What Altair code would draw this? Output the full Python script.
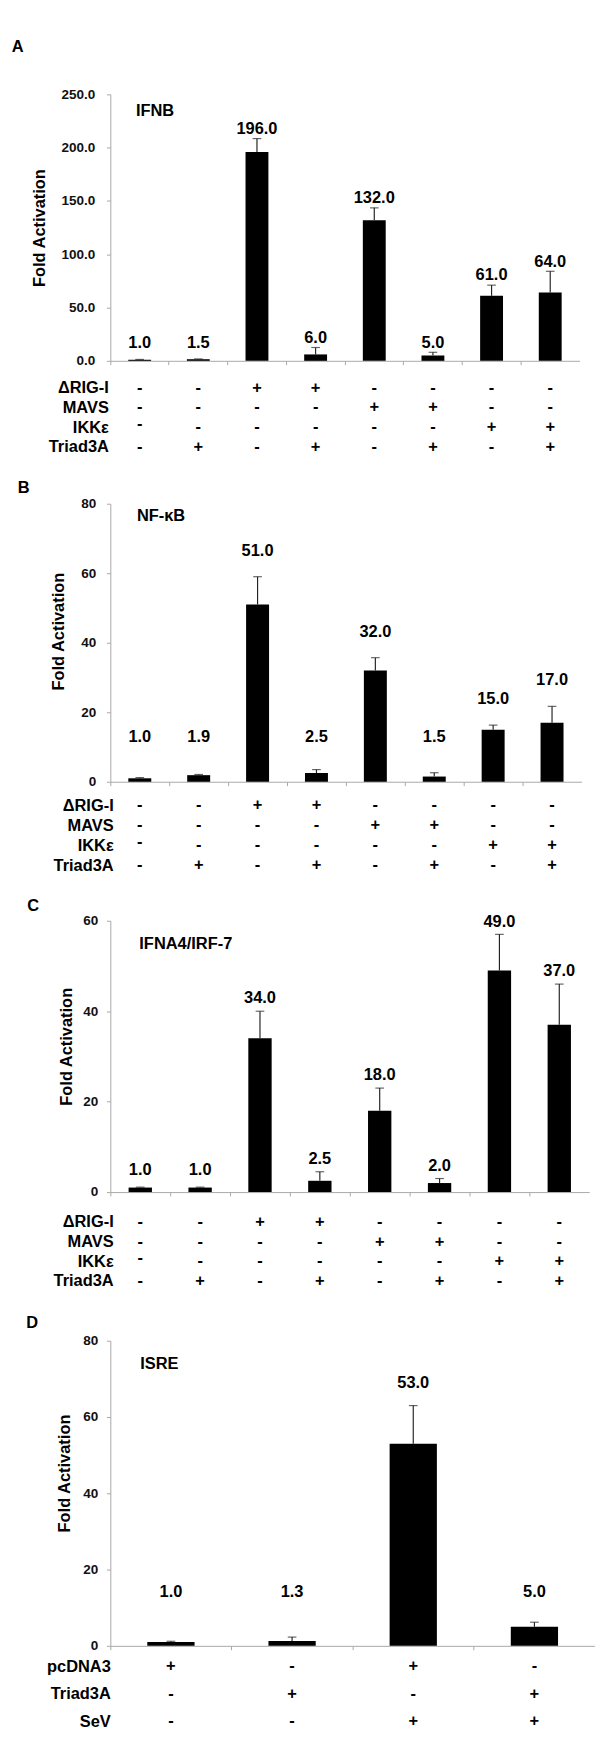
import altair as alt
import pandas as pd

FONT = "Liberation Sans"
GRAY = "#a6a6a6"
INK = "#111111"

# ---------------- data ----------------
a_vals = [1.0, 1.5, 196.0, 6.0, 132.0, 5.0, 61.0, 64.0]
a_err = [0.3, 0.3, 12.5, 6.5, 11.5, 3.0, 10.0, 20.0]

b_vals = [1.0, 1.9, 51.0, 2.5, 32.0, 1.5, 15.0, 17.0]
b_err = [0.2, 0.2, 8.0, 1.0, 3.7, 1.1, 1.3, 4.7]

c_vals = [1.0, 1.0, 34.0, 2.5, 18.0, 2.0, 49.0, 37.0]
c_err = [0.1, 0.1, 6.0, 2.0, 5.0, 1.0, 8.0, 9.0]

d_vals = [1.0, 1.3, 53.0, 5.0]
d_err = [0.2, 1.0, 10.0, 1.2]

rows_abc = ["ΔRIG-I", "MAVS", "IKKε", "Triad3A"]
table_abc = [
    ["-", "-", "+", "+", "-", "-", "-", "-"],
    ["-", "-", "-", "-", "+", "+", "-", "-"],
    ["-", "-", "-", "-", "-", "-", "+", "+"],
    ["-", "+", "-", "+", "-", "+", "-", "+"],
]
rows_d = ["pcDNA3", "Triad3A", "SeV"]
table_d = [
    ["+", "-", "+", "-"],
    ["-", "+", "-", "+"],
    ["-", "-", "+", "+"],
]

ticks_a = [0, 50, 100, 150, 200, 250]
ticks_b = [0, 20, 40, 60, 80]
ticks_c = [0, 20, 40, 60]
ticks_d = [0, 20, 40, 60, 80]


def panel(letter, name, vals, errs, rows, table, yticks, yfmt, W, H, step,
          axis_x, letter_dy, note_xy, title_xy, lab_pad, row_pad,
          off, floor, inner_sp, raise_first=False):
    n = len(vals)
    df = pd.DataFrame({"cond": list(range(1, n + 1)), "value": vals, "err": errs})
    ymax = yticks[-1]
    xenc = alt.X("cond:O", scale=alt.Scale(paddingInner=0, paddingOuter=0),
                 axis=alt.Axis(labels=False, title=None, ticks=True, tickSize=4,
                               bandPosition=0, domainColor=GRAY, tickColor=GRAY,
                               grid=False))
    yscale = alt.Scale(domain=[0, ymax], nice=False, zero=True)
    yaxis = alt.Axis(values=yticks, format=yfmt, grid=False,
                     title="Fold Activation", titleFont=FONT,
                     titleFontSize=17, titleFontWeight="bold",
                     titleColor="#000000", titleAngle=270,
                     titleAlign="center", titleBaseline="bottom",
                     titleX=title_xy[0], titleY=title_xy[1],
                     labelFont=FONT, labelFontSize=14,
                     labelFontWeight="bold", labelColor=INK,
                     labelPadding=lab_pad, tickSize=4,
                     tickColor=GRAY, domainColor=GRAY)
    base = alt.Chart(df).encode(x=xenc).transform_calculate(
        top="datum.value + datum.err",
        label_y=f"max(datum.value + datum.err + {off}, {floor})")

    bars = base.mark_bar(color="#000000", width=alt.RelativeBandSize(0.39)).encode(
        y=alt.Y("value:Q", scale=yscale, axis=yaxis))
    errs_rule = base.mark_rule(color="#222222", strokeWidth=1.2).encode(
        y=alt.Y("value:Q", scale=yscale, axis=yaxis), y2="top:Q")
    caps = base.mark_tick(color="#222222", thickness=1.2, size=9).encode(
        y=alt.Y("top:Q", scale=yscale, axis=yaxis))
    labels = base.mark_text(
        font=FONT, fontSize=17, fontWeight="bold", color="#000000",
        baseline="middle", align="center").encode(
        y=alt.Y("label_y:Q", scale=yscale, axis=yaxis),
        text=alt.Text("value:Q", format=".1f"))

    tdf = pd.DataFrame({"t": [letter], "name": [name]})
    let = alt.Chart(tdf).mark_text(font=FONT, fontSize=17, fontWeight="bold",
                                   color="#000000", align="left",
                                   baseline="middle").encode(
        x=alt.value(13 - axis_x), y=alt.value(letter_dy), text="t:N")
    note = alt.Chart(tdf).mark_text(font=FONT, fontSize=17, fontWeight="bold",
                                    color="#000000", align="left",
                                    baseline="middle").encode(
        x=alt.value(note_xy[0]), y=alt.value(note_xy[1]), text="name:N")

    top = alt.layer(bars, errs_rule, caps, labels, let, note).properties(
        width=W, height=H)

    recs = []
    for r, syms in zip(rows, table):
        for i, s in enumerate(syms):
            recs.append({"row": r, "cond": i + 1, "sym": s})
    tb = pd.DataFrame(recs)
    tx = alt.X("cond:O", scale=alt.Scale(paddingInner=0, paddingOuter=0), axis=None)
    taxis = alt.Axis(title=None, domain=False, ticks=False, labelFont=FONT,
                     labelFontSize=17, labelFontWeight="bold",
                     labelColor="#000000", labelPadding=row_pad,
                     labelAlign="right")
    ty = alt.Y("row:N", sort=rows, scale=alt.Scale(paddingInner=0, paddingOuter=0),
               axis=taxis)
    tbase = alt.Chart(tb)
    if raise_first:
        sel = "datum.row === 'IKKε' && datum.cond === 1"
        main = tbase.transform_filter(f"!({sel})").mark_text(
            font=FONT, fontSize=17, fontWeight="bold", color="#000000").encode(
            x=tx, y=ty, text="sym:N")
        up = tbase.transform_filter(sel).mark_text(
            font=FONT, fontSize=17, fontWeight="bold", color="#000000", dy=-3).encode(
            x=tx, y=ty, text="sym:N")
        tab = alt.layer(main, up)
    else:
        tab = tbase.mark_text(font=FONT, fontSize=17, fontWeight="bold",
                              color="#000000").encode(x=tx, y=ty, text="sym:N")
    tab = tab.properties(width=W, height=step * len(rows))
    return alt.vconcat(top, tab, spacing=inner_sp)


pA = panel("A", "IFNB", a_vals, a_err, rows_abc, table_abc, ticks_a, ".1f",
           486, 276, 20.3, 115, -48.5, (26.5, 17), (-64, 138), 12, 2,
           9, 17, 11, raise_first=True)
pB = panel("B", "NF-κB", b_vals, b_err, rows_abc, table_abc, ticks_b, "d",
           488, 288, 20.7, 109, -16, (27.5, 13), (-45, 132), 11, -3,
           7.4, 12.9, 7, raise_first=True)
pC = panel("C", "IFNA4/IRF-7", c_vals, c_err, rows_abc, table_abc, ticks_c, "d",
           496, 281, 20.3, 99, -14.7, (30, 24), (-36, 130), 9, -3,
           2.8, 4.75, 14, raise_first=True)
pD = panel("D", "ISRE", d_vals, d_err, rows_d, table_d, ticks_d, "d",
           502, 316, 28.5, 100, -18.2, (31, 24), (-38, 137), 9, 0,
           6, 14, 0)

chart = alt.concat(pA, pB, pC, pD, columns=1, align="none", spacing=23).properties(
    padding={"left": 4, "top": 0, "right": 0, "bottom": 0},
    background="#ffffff"
).configure_view(stroke=None)

chart.save("out.html", embed_options={"renderer": "svg", "actions": False})
